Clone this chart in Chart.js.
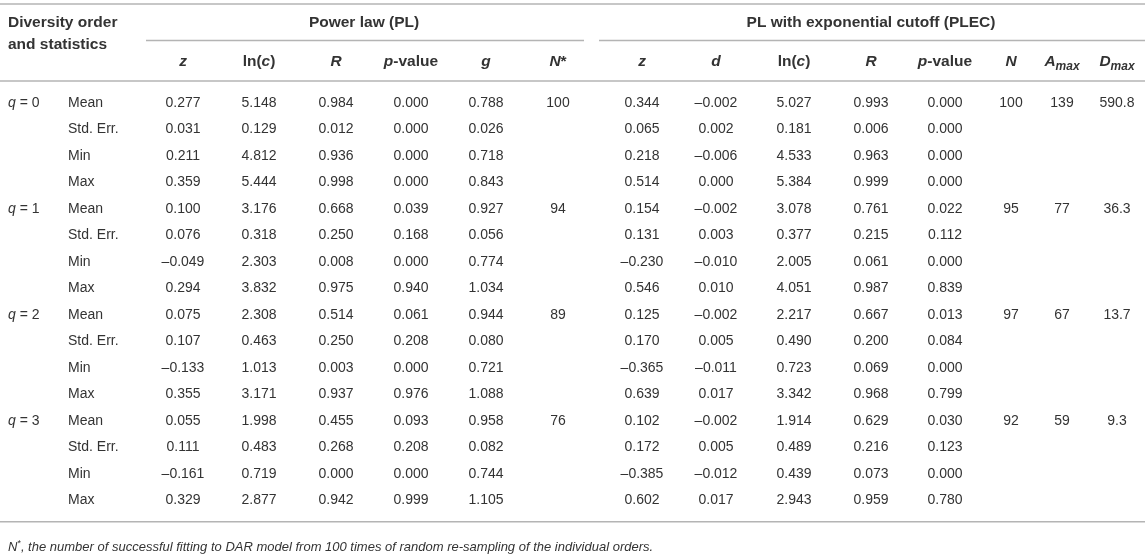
<!DOCTYPE html>
<html><head><meta charset="utf-8">
<script src="https://cdn.jsdelivr.net/npm/chart.js@4.4.1/dist/chart.umd.min.js"></script>
<style>html,body{margin:0;padding:0;background:#fff}#wrap{width:1145px;height:559px;position:relative}</style>
</head><body><div id="wrap"><canvas id="c"></canvas></div>
<script>
// ---------------- DATA ----------------
const orderLabels = ['q = 0', 'q = 1', 'q = 2', 'q = 3'];
const statLabels = ['Mean', 'Std. Err.', 'Min', 'Max'];
const groupLabels = ['Power law (PL)', 'PL with exponential cutoff (PLEC)'];
const plHeaders = ['z', 'ln(c)', 'R', 'p-value', 'g', 'N*'];
const plecHeaders = ['z', 'd', 'ln(c)', 'R', 'p-value', 'N', 'Amax', 'Dmax'];
const footnote = ', the number of successful fitting to DAR model from 100 times of random re-sampling of the individual orders.';

// Power law (PL), 16 rows: q=0..3 x (Mean, Std. Err., Min, Max)
const plZ    = [0.277, 0.031, 0.211, 0.359, 0.100, 0.076, -0.049, 0.294, 0.075, 0.107, -0.133, 0.355, 0.055, 0.111, -0.161, 0.329];
const plLnC  = [5.148, 0.129, 4.812, 5.444, 3.176, 0.318, 2.303, 3.832, 2.308, 0.463, 1.013, 3.171, 1.998, 0.483, 0.719, 2.877];
const plR    = [0.984, 0.012, 0.936, 0.998, 0.668, 0.250, 0.008, 0.975, 0.514, 0.250, 0.003, 0.937, 0.455, 0.268, 0.000, 0.942];
const plP    = [0.000, 0.000, 0.000, 0.000, 0.039, 0.168, 0.000, 0.940, 0.061, 0.208, 0.000, 0.976, 0.093, 0.208, 0.000, 0.999];
const plG    = [0.788, 0.026, 0.718, 0.843, 0.927, 0.056, 0.774, 1.034, 0.944, 0.080, 0.721, 1.088, 0.958, 0.082, 0.744, 1.105];
const plNstar = [100, null, null, null, 94, null, null, null, 89, null, null, null, 76, null, null, null];

// PL with exponential cutoff (PLEC)
const plecZ   = [0.344, 0.065, 0.218, 0.514, 0.154, 0.131, -0.230, 0.546, 0.125, 0.170, -0.365, 0.639, 0.102, 0.172, -0.385, 0.602];
const plecD   = [-0.002, 0.002, -0.006, 0.000, -0.002, 0.003, -0.010, 0.010, -0.002, 0.005, -0.011, 0.017, -0.002, 0.005, -0.012, 0.017];
const plecLnC = [5.027, 0.181, 4.533, 5.384, 3.078, 0.377, 2.005, 4.051, 2.217, 0.490, 0.723, 3.342, 1.914, 0.489, 0.439, 2.943];
const plecR   = [0.993, 0.006, 0.963, 0.999, 0.761, 0.215, 0.061, 0.987, 0.667, 0.200, 0.069, 0.968, 0.629, 0.216, 0.073, 0.959];
const plecP   = [0.000, 0.000, 0.000, 0.000, 0.022, 0.112, 0.000, 0.839, 0.013, 0.084, 0.000, 0.799, 0.030, 0.123, 0.000, 0.780];
const plecN    = [100, null, null, null, 95, null, null, null, 97, null, null, null, 92, null, null, null];
const plecAmax = [139, null, null, null, 77, null, null, null, 67, null, null, null, 59, null, null, null];
const plecDmax = [590.8, null, null, null, 36.3, null, null, null, 13.7, null, null, null, 9.3, null, null, null];

// ---------------- LAYOUT ----------------
const W = 1145, H = 559;
const rowPitch = 26.5, firstRow = 103;
const FONT = "'Liberation Sans', Arial, Helvetica, sans-serif";
const TXT = '#333333';
const RULE = '#b4b4b4';
const layout = {
  colX: [183, 259, 336, 411, 486, 558, 642, 716, 794, 871, 945, 1011, 1062, 1117],
  orderX: 8, statX: 68,
  groupCenters: [364, 871],
  groupRow: -3.02, subRow: -2.19, headRow: -1.55,
  topRule: -3.74, underRule: -2.36, headRule: -0.83, bottomRule: 15.8, footRow: 16.78,
  underSpans: [[146, 584], [599, 1145]]
};

const columns = [
  [plZ, 3], [plLnC, 3], [plR, 3], [plP, 3], [plG, 3], [plNstar, 0],
  [plecZ, 3], [plecD, 3], [plecLnC, 3], [plecR, 3], [plecP, 3], [plecN, 0], [plecAmax, 0], [plecDmax, 1]
];
const headers = plHeaders.concat(plecHeaders);

function fmt(v, dec) {
  if (v === null || v === undefined) return null;
  return (v < 0 ? '\u2013' : '') + Math.abs(v).toFixed(dec);
}
function richHeader(h) {
  if (h === 'ln(c)') return [['ln(', 'b'], ['c', 'bi'], [')', 'b']];
  if (h === 'p-value') return [['p', 'bi'], ['-value', 'b']];
  if (h === 'N*') return [['N', 'bi'], ['*', 'b']];
  if (h === 'Amax' || h === 'Dmax') return [[h[0], 'bi'], ['max', 'subbi']];
  return [[h, 'bi']];
}
function richOrder(s) { return [[s[0], 'i'], [s.slice(1), 'r']]; }

function fontFor(style, size) {
  switch (style) {
    case 'b': return `bold ${size}px ${FONT}`;
    case 'i': return `italic ${size}px ${FONT}`;
    case 'bi': return `italic bold ${size}px ${FONT}`;
    case 'subbi': return `italic bold ${Math.round(size * 0.75)}px ${FONT}`;
    case 'sup': return `${Math.round(size * 0.7)}px ${FONT}`;
    default: return `${size}px ${FONT}`;
  }
}
function drawRich(ctx, segs, x, y, align, size) {
  ctx.save();
  ctx.textBaseline = 'middle';
  ctx.fillStyle = TXT;
  let total = 0;
  const widths = segs.map(([t, s]) => { ctx.font = fontFor(s, size); const w = ctx.measureText(t).width; total += w; return w; });
  let cx = align === 'center' ? x - total / 2 : x;
  segs.forEach(([t, s], k) => {
    ctx.font = fontFor(s, size);
    let dy = 0;
    if (s === 'subbi') dy = size * 0.28;
    if (s === 'sup') dy = -size * 0.3;
    ctx.textAlign = 'left';
    ctx.fillText(t, cx, y + dy);
    cx += widths[k];
  });
  ctx.restore();
}

// ---------------- DATASETS ----------------
const datasets = [];
function textSet(points, texts, align, size) {
  datasets.push({ type: 'scatter', data: points, cellText: texts, align: align, size: size,
    pointRadius: 0, pointHoverRadius: 0, showLine: false });
}
function ruleSet(x0, x1, y) {
  datasets.push({ type: 'scatter', data: [{ x: x0, y: y }, { x: x1, y: y }], showLine: true,
    borderColor: RULE, borderWidth: 1.5, pointRadius: 0, fill: false });
}

// rules
ruleSet(0, W, layout.topRule);
ruleSet(layout.underSpans[0][0], layout.underSpans[0][1], layout.underRule);
ruleSet(layout.underSpans[1][0], layout.underSpans[1][1], layout.underRule);
ruleSet(0, W, layout.headRule);
ruleSet(0, W, layout.bottomRule);

// data cells
columns.forEach(([vals, dec], j) => {
  const pts = [], txt = [];
  vals.forEach((v, i) => {
    const s = fmt(v, dec);
    if (s === null) return;
    pts.push({ x: layout.colX[j], y: i });
    txt.push([[s, 'r']]);
  });
  textSet(pts, txt, 'center', 14);
});

// column headers
textSet(headers.map((h, j) => ({ x: layout.colX[j], y: layout.headRow })), headers.map(richHeader), 'center', 15.5);

// group headers
textSet(groupLabels.map((g, k) => ({ x: layout.groupCenters[k], y: layout.groupRow })), groupLabels.map(g => [[g, 'b']]), 'center', 15.5);

// stub header
textSet([{ x: layout.orderX, y: layout.groupRow }, { x: layout.orderX, y: layout.subRow }],
  [[['Diversity order', 'b']], [['and statistics', 'b']]], 'left', 15.5);

// row labels
const statPts = [], statTxt = [];
for (let i = 0; i < orderLabels.length * statLabels.length; i++) {
  statPts.push({ x: layout.statX, y: i });
  statTxt.push([[statLabels[i % statLabels.length], 'r']]);
}
textSet(statPts, statTxt, 'left', 14);
textSet(orderLabels.map((o, k) => ({ x: layout.orderX, y: k * statLabels.length })), orderLabels.map(richOrder), 'left', 14);

// footnote
textSet([{ x: layout.orderX, y: layout.footRow }], [[['N', 'i'], ['*', 'sup'], [footnote, 'i']]], 'left', 13);

const cellTextPlugin = {
  id: 'cellText',
  afterDatasetsDraw(chart) {
    const ctx = chart.ctx;
    chart.data.datasets.forEach((ds, di) => {
      if (!ds.cellText) return;
      const meta = chart.getDatasetMeta(di);
      meta.data.forEach((el, i) => {
        const segs = ds.cellText[i];
        if (segs) drawRich(ctx, segs, el.x, el.y, ds.align, ds.size);
      });
    });
  }
};

new Chart(document.getElementById('c'), {
  type: 'scatter',
  data: { datasets: datasets },
  options: {
    responsive: true, maintainAspectRatio: false, animation: false, events: [],
    layout: { padding: 0 },
    plugins: { legend: { display: false }, tooltip: { enabled: false } },
    scales: {
      x: { type: 'linear', display: false, min: 0, max: W },
      y: { type: 'linear', display: false, reverse: true, min: -firstRow / rowPitch, max: (H - firstRow) / rowPitch }
    }
  },
  plugins: [cellTextPlugin]
});
</script>
</body></html>
